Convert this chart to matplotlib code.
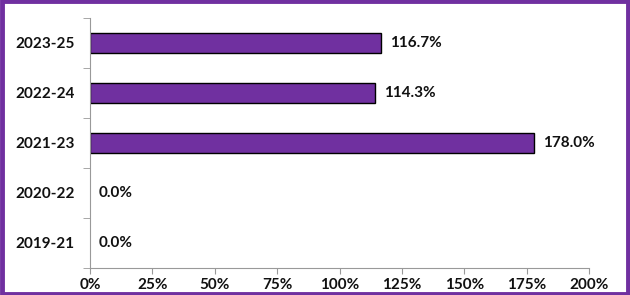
import matplotlib.pyplot as plt
from matplotlib.patches import Rectangle
from matplotlib.ticker import FuncFormatter

plt.rcParams['font.family'] = ['Lato', 'DejaVu Sans']

periods = ['2019-21', '2020-22', '2021-23', '2022-24', '2023-25']
values = [0.0, 0.0, 178.0, 114.3, 116.7]

purple = '#7030A0'

fig = plt.figure(figsize=(6.3, 2.95), dpi=100)
ax = fig.add_axes([0.143, 0.0915, 0.792, 0.848])

y = range(len(periods))
ax.barh(y, values, height=0.4, color=purple, edgecolor='black',
        linewidth=[1.0 if v > 0 else 0 for v in values])

for yi, v in zip(y, values):
    ax.text(v + 3.5, yi, f'{v:.1f}%', va='center', ha='left',
            fontsize=11, fontweight='bold', color='#111111')

ax.set_xlim(0, 200)
ax.set_ylim(-0.5, len(periods) - 0.5)
ax.set_xticks(range(0, 201, 25))
ax.xaxis.set_major_formatter(FuncFormatter(lambda v, p: f'{v:.0f}%'))
ax.set_yticks(list(y))
ax.set_yticklabels(periods)
ax.set_yticks([i - 0.5 for i in range(len(periods) + 1)], minor=True)

ax.tick_params(axis='y', which='major', length=0, pad=11)
ax.tick_params(axis='y', which='minor', length=5, color='#999999', direction='out')
ax.tick_params(axis='x', length=4, color='#999999', direction='out', pad=3)
for lbl in ax.get_xticklabels() + ax.get_yticklabels():
    lbl.set_fontsize(11)
    lbl.set_fontweight('bold')
    lbl.set_color('#111111')

for s in ['top', 'right']:
    ax.spines[s].set_visible(False)
for s in ['left', 'bottom']:
    ax.spines[s].set_color('#999999')
    ax.spines[s].set_linewidth(0.8)

fig.patches.append(Rectangle((0.003, 0.005), 0.994, 0.99, transform=fig.transFigure,
                             fill=False, edgecolor=purple, linewidth=3.5))

fig.savefig('out.png', dpi=100)
